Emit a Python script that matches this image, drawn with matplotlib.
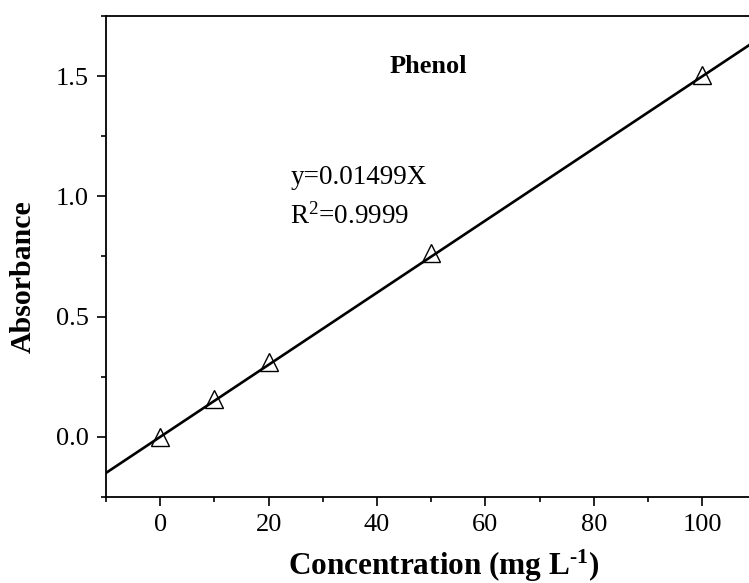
import matplotlib
matplotlib.use("Agg")
import matplotlib.pyplot as plt
import numpy as np
from matplotlib.ticker import MultipleLocator

plt.rcParams["font.family"] = ["Liberation Serif", "DejaVu Serif"]
plt.rcParams["mathtext.fontset"] = "custom"
plt.rcParams["mathtext.rm"] = "Liberation Serif"
plt.rcParams["mathtext.bf"] = "Liberation Serif:bold"
plt.rcParams["mathtext.it"] = "Liberation Serif:italic"

# data
conc = [0, 10, 20, 50, 100]
absorb = [0.0, 0.158, 0.311, 0.766, 1.505]
slope = 0.01499
fit_x = [-10, 110]
title_txt = "Phenol"
eq_txt = "y=0.01499X"
r2_txt = r"R$^2$=0.9999"

fig = plt.figure(figsize=(7.49, 5.83), dpi=100)
ax = fig.add_axes([0.1415, 0.1475, 0.8684, 0.8251])

fx = np.array(fit_x)
ax.plot(fx, slope * fx, color="black", lw=1.9, zorder=2)
ax.plot(conc, absorb, linestyle="none", marker="^", ms=12.5,
        mfc="none", mec="black", mew=1.0, zorder=3)

ax.set_xlim(-10, 110)
ax.set_ylim(-0.25, 1.75)
ax.xaxis.set_major_locator(MultipleLocator(20))
ax.xaxis.set_minor_locator(MultipleLocator(10))
ax.yaxis.set_major_locator(MultipleLocator(0.5))
ax.yaxis.set_minor_locator(MultipleLocator(0.25))
ax.tick_params(which="major", direction="out", length=6.5, width=1.2,
               labelsize=19, pad=6)
ax.tick_params(which="minor", direction="out", length=3.5, width=1.2)
ax.tick_params(top=False, right=False)
for s in ax.spines.values():
    s.set_linewidth(1.3)

ax.set_xlabel("Concentration (mg L$^{\\mathbf{\u2010}\\mathbf{1}}$)",
              fontsize=22.5, fontweight="bold")
ax.set_ylabel("Absorbance", fontsize=21.5, fontweight="bold")
ax.xaxis.set_label_coords(0.52, -0.106)
ax.yaxis.set_label_coords(-0.107, 0.458)

ax.text(49.4, 1.542, title_txt, fontsize=19, fontweight="bold",
        ha="center", va="center")
ax.text(24.0, 1.052, eq_txt, fontsize=19.5, ha="left", va="baseline")
ax.text(24.0, 0.885, r2_txt, fontsize=19.5, ha="left", va="baseline")

fig.savefig("out.png", dpi=100)
